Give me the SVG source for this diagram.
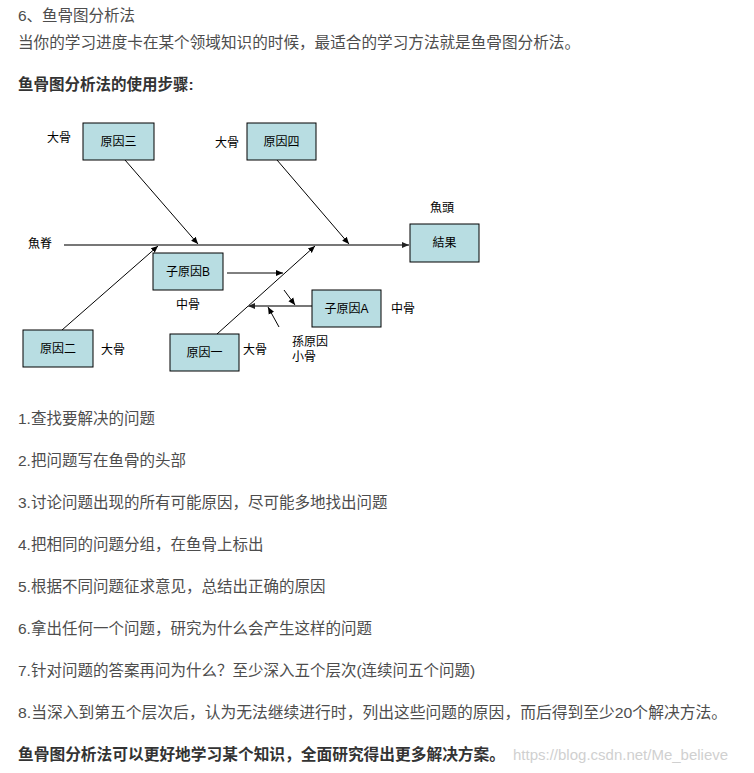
<svg xmlns="http://www.w3.org/2000/svg" width="754" height="773" viewBox="0 0 754 773">
<defs>
<marker id="ah" markerWidth="8" markerHeight="8" refX="7" refY="4" orient="auto" markerUnits="userSpaceOnUse"><path d="M0,1 L7,4 L0,7 Z" fill="#000"/></marker>
<marker id="ahg" markerWidth="8" markerHeight="8" refX="7" refY="4" orient="auto" markerUnits="userSpaceOnUse"><path d="M0,1 L7,4 L0,7 Z" fill="#222"/></marker>
<style>
text{font-family:"Liberation Sans","Noto Sans CJK SC",sans-serif;}
.t{font-size:15.5px;fill:#4d4d4d;}
.b{font-size:15.5px;fill:#333;font-weight:bold;}
.n{font-size:12px;fill:#000;}
.box{fill:#b8dde2;stroke:#000;stroke-width:1;}
.bt{font-size:12px;fill:#000;text-anchor:middle;}
.ln{stroke:#000;stroke-width:1;fill:none;marker-end:url(#ah);}
.gl{stroke:#777;stroke-width:2;fill:none;marker-end:url(#ahg);}
.wm{font-size:15px;fill:#d0d0d0;}
</style>
</defs>
<rect width="754" height="773" fill="#fff"/>
<text class="t" x="18" y="21">6、鱼骨图分析法</text>
<text class="t" x="18" y="48" textLength="562" lengthAdjust="spacingAndGlyphs">当你的学习进度卡在某个领域知识的时候，最适合的学习方法就是鱼骨图分析法。</text>
<text class="b" x="18" y="90">鱼骨图分析法的使用步骤:</text>

<g id="connectors">
<line class="gl" x1="64" y1="245" x2="409" y2="245"/>
<line class="ln" x1="125" y1="160" x2="198" y2="244"/>
<line class="ln" x1="277" y1="160" x2="349" y2="244"/>
<line class="ln" x1="62" y1="330" x2="158" y2="246"/>
<line class="ln" x1="217" y1="334" x2="315" y2="246"/>
<line class="ln" x1="227" y1="273" x2="283" y2="273"/>
<line class="gl" x1="312" y1="306" x2="248" y2="306"/>
<line class="ln" x1="284" y1="290" x2="295" y2="305"/>
<line class="ln" x1="279" y1="327" x2="268" y2="307"/>
</g>

<g id="n3"><rect class="box" x="83" y="123" width="71" height="37"/><text class="bt" x="118.5" y="146">原因三</text></g>
<g id="n4"><rect class="box" x="247" y="123" width="69" height="37"/><text class="bt" x="281.5" y="146">原因四</text></g>
<g id="result"><rect class="box" x="410" y="224" width="69" height="38"/><text class="bt" x="444.5" y="247">結果</text></g>
<g id="subB"><rect class="box" x="153" y="253" width="70" height="37"/><text class="bt" x="188" y="276">子原因B</text></g>
<g id="subA"><rect class="box" x="312" y="290" width="69" height="37"/><text class="bt" x="346.5" y="313">子原因A</text></g>
<g id="n2"><rect class="box" x="23" y="330" width="70" height="37"/><text class="bt" x="58" y="353">原因二</text></g>
<g id="n1"><rect class="box" x="170" y="334" width="69" height="37"/><text class="bt" x="204.5" y="357">原因一</text></g>

<g id="labels">
<text class="n" x="47" y="142">大骨</text>
<text class="n" x="215" y="147">大骨</text>
<text class="n" x="430" y="212">魚頭</text>
<text class="n" x="28" y="248">魚脊</text>
<text class="n" x="176" y="309">中骨</text>
<text class="n" x="391" y="313">中骨</text>
<text class="n" x="101" y="354">大骨</text>
<text class="n" x="243" y="354">大骨</text>
<text class="n" x="292" y="346">孫原因</text>
<text class="n" x="292" y="361">小骨</text>
</g>

<text class="t" x="18" y="424">1.查找要解决的问题</text>
<text class="t" x="18" y="466">2.把问题写在鱼骨的头部</text>
<text class="t" x="18" y="508">3.讨论问题出现的所有可能原因，尽可能多地找出问题</text>
<text class="t" x="18" y="550">4.把相同的问题分组，在鱼骨上标出</text>
<text class="t" x="18" y="592">5.根据不同问题征求意见，总结出正确的原因</text>
<text class="t" x="18" y="634">6.拿出任何一个问题，研究为什么会产生这样的问题</text>
<text class="t" x="18" y="676">7.针对问题的答案再问为什么？至少深入五个层次(连续问五个问题)</text>
<text class="t" x="18" y="718" textLength="709" lengthAdjust="spacingAndGlyphs">8.当深入到第五个层次后，认为无法继续进行时，列出这些问题的原因，而后得到至少20个解决方法。</text>
<text class="b" x="18" y="760" textLength="487" lengthAdjust="spacingAndGlyphs">鱼骨图分析法可以更好地学习某个知识，全面研究得出更多解决方案。</text>
<text class="wm" x="513" y="760">https://blog.csdn.net/Me_believe</text>
</svg>
